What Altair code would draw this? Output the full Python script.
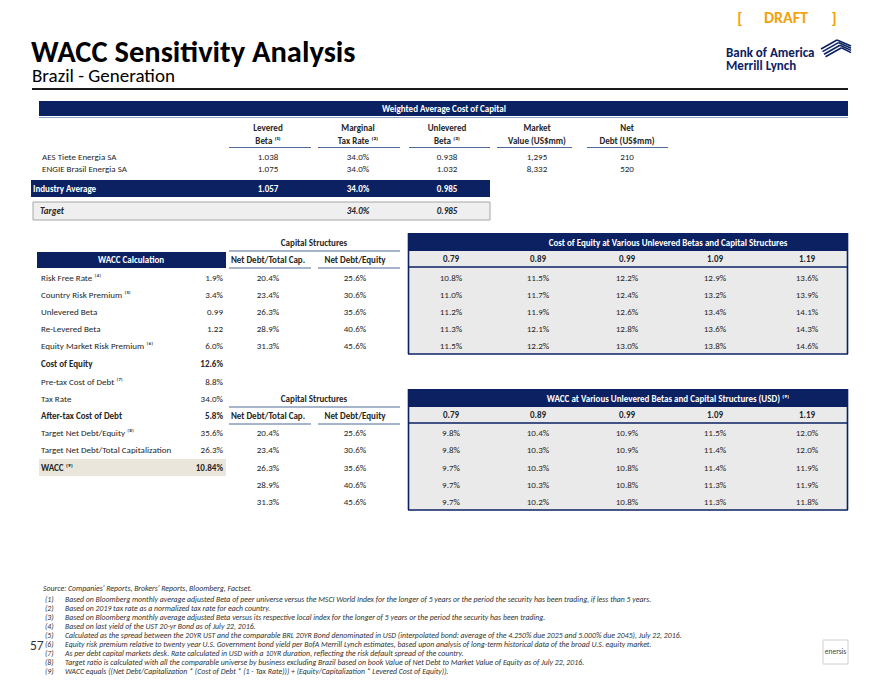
import altair as alt
import pandas as pd

# ---------------- data ----------------
peer_names = ["AES Tiete Energia SA", "ENGIE Brasil Energia SA"]
levered_beta = [1.038, 1.075]
marginal_tax = [34.0, 34.0]
unlevered_beta = [0.938, 1.032]
market_value = [1295, 8332]
net_debt = [210, 520]
industry_avg = [1.057, 34.0, 0.985]
target_vals = [34.0, 0.985]

top_headers_1 = ["Levered", "Marginal", "Unlevered", "Market", "Net"]
top_headers_2 = ["Beta ⁽¹⁾", "Tax Rate ⁽²⁾", "Beta ⁽³⁾", "Value (US$mm)", "Debt (US$mm)"]

wacc_labels = ["Risk Free Rate ⁽⁴⁾", "Country Risk Premium ⁽⁵⁾", "Unlevered Beta", "Re-Levered Beta",
               "Equity Market Risk Premium ⁽⁶⁾", "Cost of Equity", "Pre-tax Cost of Debt ⁽⁷⁾", "Tax Rate",
               "After-tax Cost of Debt", "Target Net Debt/Equity ⁽⁸⁾", "Target Net Debt/Total Capitalization",
               "WACC ⁽⁹⁾"]
wacc_values = ["1.9%", "3.4%", "0.99", "1.22", "6.0%", "12.6%", "8.8%", "34.0%", "5.8%", "35.6%", "26.3%", "10.84%"]
wacc_bold = [False, False, False, False, False, True, False, False, True, False, False, True]

betas = [0.79, 0.89, 0.99, 1.09, 1.19]
nd_total_cap = [20.4, 23.4, 26.3, 28.9, 31.3]
nd_equity = [25.6, 30.6, 35.6, 40.6, 45.6]
coe_grid = [[10.8, 11.5, 12.2, 12.9, 13.6],
            [11.0, 11.7, 12.4, 13.2, 13.9],
            [11.2, 11.9, 12.6, 13.4, 14.1],
            [11.3, 12.1, 12.8, 13.6, 14.3],
            [11.5, 12.2, 13.0, 13.8, 14.6]]
wacc_grid = [[9.8, 10.4, 10.9, 11.5, 12.0],
             [9.8, 10.3, 10.9, 11.4, 12.0],
             [9.7, 10.3, 10.8, 11.4, 11.9],
             [9.7, 10.3, 10.8, 11.3, 11.9],
             [9.7, 10.2, 10.8, 11.3, 11.8]]

footnotes = [
    "Based on Bloomberg monthly average adjusted Beta of peer universe versus the MSCI World Index for the longer of 5 years or the period the security has been trading, if less than 5 years.",
    "Based on 2019 tax rate as a normalized tax rate for each country.",
    "Based on Bloomberg monthly average adjusted Beta versus its respective local index for the longer of 5 years or the period the security has been trading.",
    "Based on last yield of the UST 20-yr Bond as of July 22, 2016.",
    "Calculated as the spread between the 20YR UST and the comparable BRL 20YR Bond denominated in USD (interpolated bond: average of the 4.250% due 2025 and 5.000% due 2045), July 22, 2016.",
    "Equity risk premium relative to twenty year U.S. Government bond yield per BofA Merrill Lynch estimates, based upon analysis of long-term historical data of the broad U.S. equity market.",
    "As per debt capital markets desk. Rate calculated in USD with a 10YR duration, reflecting the risk default spread of the country.",
    "Target ratio is calculated with all the comparable universe by business excluding Brazil based on book Value of Net Debt to Market Value of Equity as of July 22, 2016.",
    "WACC equals ((Net Debt/Capitalization * (Cost of Debt * (1 - Tax Rate))) + (Equity/Capitalization * Levered Cost of Equity)).",
]
source_text = "Source: Companies' Reports, Brokers' Reports, Bloomberg, Factset."

# ---------------- styles / layout ----------------
NAVY = "#0B2161"
LINE = "#4F6A9A"
GREY = "#EAEAEA"
BEIGE = "#EAE6DB"
ORANGE = "#F2A20C"
TXT = "#262626"
FONT = "Carlito, Calibri, Roboto"
FS = 9

TOP_COLS = [268, 358, 447, 537, 627]
GRID_COLS = [451, 538, 627, 715, 807]
CS_COLS = [268, 355]
CS_LINES = [(229, 311), (318, 400)]

texts, rects, rules = [], [], []


def T(x, y, s, size=FS, weight="normal", style="normal", color=TXT, align="center", base="middle", font=FONT):
    texts.append(dict(x=x, y=y, t=s, fs=size, w=weight, st=style, c=color, a=align, b=base, f=font))


def R(x, x2, y, y2, fill):
    rects.append(dict(x=x, x2=x2, y=y, y2=y2, c=fill))


def L(x, x2, y, y2, color, w=1.0):
    rules.append(dict(x=x, x2=x2, y=y, y2=y2, c=color, sw=w))


def pct(v, d=1):
    return f"{v:.{d}f}%"


# header
T(740, 17.5, "[", 16.5, "bold", color=ORANGE)
T(786, 17.5, "DRAFT", 16, "bold", color=ORANGE)
T(834, 17.5, "]", 16.5, "bold", color=ORANGE)
T(31, 62, "WACC Sensitivity Analysis", 30.5, "bold", color="#000000", align="left", base="alphabetic")
T(32, 82, "Brazil - Generation", 19, color="#000000", align="left", base="alphabetic")
L(32, 848, 89, 89, "#1A1A1A", 2)
T(726, 56.5, "Bank of America", 13, "bold", color=NAVY, align="left", base="alphabetic")
T(726, 69.5, "Merrill Lynch", 13, "bold", color=NAVY, align="left", base="alphabetic")
for i in range(4):
    L(821 + i * 1.5, 837 + i * 1.5, 49 + i * 2.6, 40 + i * 2.6, NAVY, 1.6)
    L(837 + i * 1.5, 851, 40 + i * 2.6, 46 + i * 2.2, NAVY, 1.6)

# top table
R(39, 848, 101, 116, NAVY)
L(39, 848, 117.5, 117.5, "#8FA3C8", 1)
T(444, 109, "Weighted Average Cost of Capital", FS, "bold", color="#FFFFFF")
for i, cx in enumerate(TOP_COLS):
    T(cx, 128, top_headers_1[i], FS, "bold")
    T(cx, 141, top_headers_2[i], FS, "bold")
for (a, b) in [(229, 311), (318, 400), (409, 490), (497, 572), (587, 668)]:
    L(a, b, 147.5, 147.5, LINE, 1.2)
for r, name in enumerate(peer_names):
    y = 157 + r * 12
    T(42, y, name, FS, align="left")
    T(TOP_COLS[0], y, f"{levered_beta[r]:.3f}")
    T(TOP_COLS[1], y, pct(marginal_tax[r]))
    T(TOP_COLS[2], y, f"{unlevered_beta[r]:.3f}")
    T(TOP_COLS[3], y, f"{market_value[r]:,}")
    T(TOP_COLS[4], y, f"{net_debt[r]:,}")
R(31, 490, 180, 197, NAVY)
T(33, 188.5, "Industry Average", FS, "bold", color="#FFFFFF", align="left")
T(TOP_COLS[0], 188.5, f"{industry_avg[0]:.3f}", FS, "bold", color="#FFFFFF")
T(TOP_COLS[1], 188.5, pct(industry_avg[1]), FS, "bold", color="#FFFFFF")
T(TOP_COLS[2], 188.5, f"{industry_avg[2]:.3f}", FS, "bold", color="#FFFFFF")
R(33, 490, 202, 220, "#EFEFEF")
for (a, b, c, d) in [(33, 490, 202, 202), (33, 490, 220, 220), (33, 33, 202, 220), (490, 490, 202, 220)]:
    L(a, b, c, d, "#A6A6A6", 1)
T(40, 211, "Target", FS, "bold", "italic", align="left")
T(TOP_COLS[1], 211, pct(target_vals[0]), FS, "bold", "italic")
T(TOP_COLS[2], 211, f"{target_vals[1]:.3f}", FS, "bold", "italic")

# WACC calculation block
R(37, 226, 252, 268, NAVY)
T(131, 260, "WACC Calculation", FS, "bold", color="#FFFFFF")
R(39, 226, 459, 476, BEIGE)
wacc_rows_y = [278, 295, 312, 329, 346, 364, 382, 399, 416, 433, 450, 468]
for i, lab in enumerate(wacc_labels):
    wt = "bold" if wacc_bold[i] else "normal"
    T(41, wacc_rows_y[i], lab, FS, wt, align="left")
    T(223, wacc_rows_y[i], wacc_values[i], FS, wt, align="right")


def capital_structures(ytitle, yhead, rows_y):
    T(314, ytitle, "Capital Structures", FS, "bold")
    L(229, 400, ytitle + 8, ytitle + 8, LINE, 1.2)
    T(CS_COLS[0], yhead, "Net Debt/Total Cap.", FS, "bold")
    T(CS_COLS[1], yhead, "Net Debt/Equity", FS, "bold")
    for (a, b) in CS_LINES:
        L(a, b, yhead + 8, yhead + 8, LINE, 1.2)
    for i, y in enumerate(rows_y):
        T(CS_COLS[0], y, pct(nd_total_cap[i]))
        T(CS_COLS[1], y, pct(nd_equity[i]))


def grid_block(title, ytop, grid, rows_y):
    hb = ytop + 18
    hl = hb + 16
    bottom = rows_y[-1] + 8
    R(408, 848, ytop, hb, NAVY)
    T(668, ytop + 10, title, FS, "bold", color="#FFFFFF")
    R(408, 848, hb, bottom, GREY)
    for j, b in enumerate(betas):
        T(GRID_COLS[j], hb + 8, f"{b:.2f}", FS, "bold")
    L(408, 848, hl, hl, NAVY, 1.6)
    L(408, 848, bottom, bottom, NAVY, 1.6)
    L(408.5, 408.5, ytop, bottom, NAVY, 1.6)
    L(847.5, 847.5, ytop, bottom, NAVY, 1.6)
    for i, y in enumerate(rows_y):
        for j in range(5):
            T(GRID_COLS[j], y, pct(grid[i][j]))


capital_structures(243, 260, [278, 295, 312, 329, 346])
grid_block("Cost of Equity at Various Unlevered Betas and Capital Structures", 233, coe_grid, [278, 295, 312, 329, 346])
capital_structures(399, 416, [433, 450, 468, 485, 502])
grid_block("WACC at Various Unlevered Betas and Capital Structures (USD) ⁽⁹⁾", 389, wacc_grid, [433, 450, 468, 485, 502])

# footnotes
FN = 7.8
T(43, 589, source_text, FN, style="italic", color="#333333", align="left")
for i, fn in enumerate(footnotes):
    y = 600 + i * 9
    T(45, y, f"({i + 1})", FN, style="italic", color="#333333", align="left")
    T(65, y, fn, FN, style="italic", color="#333333", align="left")
T(30, 646, "57", 13.5, color="#333333", align="left")
R(823, 848, 640, 664, "#FFFFFF")
for (a, b, c, d) in [(823, 848, 640, 640), (823, 848, 664, 664), (823, 823, 640, 664), (848, 848, 640, 664)]:
    L(a, b, c, d, "#D0D0D0", 1)
T(835.5, 652, "enersis", 7.5, color="#444444")

# ---------------- chart ----------------
XS = alt.Scale(domain=[8, 872], nice=False, zero=False)
YS = alt.Scale(domain=[8, 678], nice=False, zero=False, reverse=True)

rect_df = pd.DataFrame(rects)
rule_df = pd.DataFrame(rules)
text_df = pd.DataFrame(texts)

layers = [
    alt.Chart(rect_df).mark_rect().encode(
        x=alt.X("x:Q", scale=XS, axis=None), x2="x2:Q",
        y=alt.Y("y:Q", scale=YS, axis=None), y2="y2:Q",
        color=alt.Color("c:N", scale=None)),
    alt.Chart(rule_df).mark_rule().encode(
        x=alt.X("x:Q", scale=XS, axis=None), x2="x2:Q",
        y=alt.Y("y:Q", scale=YS, axis=None), y2="y2:Q",
        color=alt.Color("c:N", scale=None),
        strokeWidth=alt.StrokeWidth("sw:Q", scale=None)),
]
for key, g in text_df.groupby(["w", "st", "a", "b", "f"]):
    w, st, a, b, f = key
    layers.append(
        alt.Chart(g).mark_text(fontWeight=w, fontStyle=st, align=a, baseline=b, font=f).encode(
            x=alt.X("x:Q", scale=XS, axis=None),
            y=alt.Y("y:Q", scale=YS, axis=None),
            text="t:N",
            size=alt.Size("fs:Q", scale=None),
            color=alt.Color("c:N", scale=None)))

chart = alt.layer(*layers).properties(
    width=864, height=670, padding=0,
    autosize=alt.AutoSizeParams(type="none"),
    background="#FFFFFF",
).configure_view(stroke=None)

chart.save("out.html", embed_options={"renderer": "svg", "actions": False})
